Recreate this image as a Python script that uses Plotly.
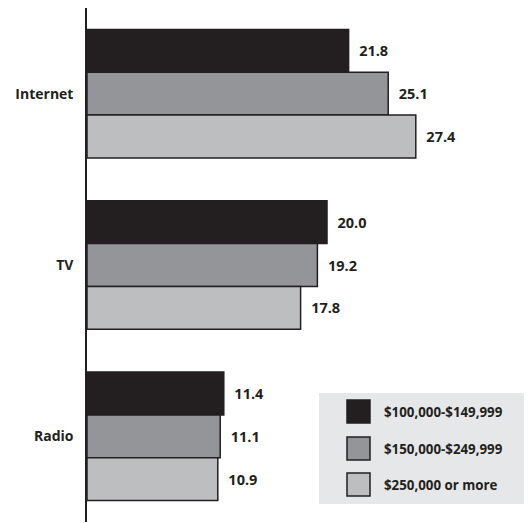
import plotly.graph_objects as go

categories = ["Internet", "TV", "Radio"]
series_names = ["$100,000-$149,999", "$150,000-$249,999", "$250,000 or more"]
values_100k = [21.8, 20.0, 11.4]
values_150k = [25.1, 19.2, 11.1]
values_250k = [27.4, 17.8, 10.9]
series_values = [values_100k, values_150k, values_250k]
colors = ["#231f20", "#939598", "#bcbec0"]

OFF = 8  # default page body margin
W, H = 532 - OFF, 523 - OFF
L, R, T, B = 87 - OFF, 13, 0, 1
pw, ph = W - L - R, H - T - B

def px(x):
    return (x - OFF - L) / pw

def py(y):
    return (H - B - (y - OFF)) / ph

FONT = "Open Sans"
fig = go.Figure()
for name, vals, col in zip(series_names, series_values, colors):
    fig.add_trace(go.Bar(
        y=categories, x=vals, orientation="h", name=name,
        marker=dict(color=col, line=dict(color="#231f20", width=1.5)),
        text=["\u00a0\u00a0" + f"{v:.1f}" for v in vals],
        textposition="outside", cliponaxis=False,
        textfont=dict(family=FONT, size=14.5, color="#231f20", weight="bold"),
        showlegend=False,
    ))

shapes = [dict(type="rect", xref="paper", yref="paper",
               x0=px(319), x1=px(540), y0=py(504), y1=py(393),
               fillcolor="#e6e7e8", line=dict(width=0), layer="above")]
annotations = []
row_tops = [400, 437, 473]
for name, col, top in zip(series_names, colors, row_tops):
    shapes.append(dict(type="rect", xref="paper", yref="paper",
                       x0=px(347), x1=px(370), y0=py(top + 23), y1=py(top),
                       fillcolor=col, line=dict(color="#231f20", width=1.5), layer="above"))
    annotations.append(dict(x=px(382), y=py(top + 11.5), xref="paper", yref="paper",
                            text=name, showarrow=False, xanchor="left", yanchor="middle",
                            font=dict(family=FONT, size=13.3, color="#231f20", weight="bold")))

fig.update_layout(
    width=W, height=H,
    margin=dict(l=L, r=R, t=T, b=B, autoexpand=False),
    paper_bgcolor="white", plot_bgcolor="white",
    barmode="group", bargap=0.25, bargroupgap=0,
    xaxis=dict(range=[0, 36], visible=False, showgrid=False, zeroline=False, automargin=False),
    yaxis=dict(range=[2.5, -0.5], showline=True, linecolor="#231f20", linewidth=1.5,
               ticks="", showgrid=False, ticklabelstandoff=9, automargin=False,
               tickfont=dict(family=FONT, size=14, color="#231f20", weight="bold")),
    shapes=shapes, annotations=annotations,
    showlegend=False,
)
fig.write_html("out.html")
